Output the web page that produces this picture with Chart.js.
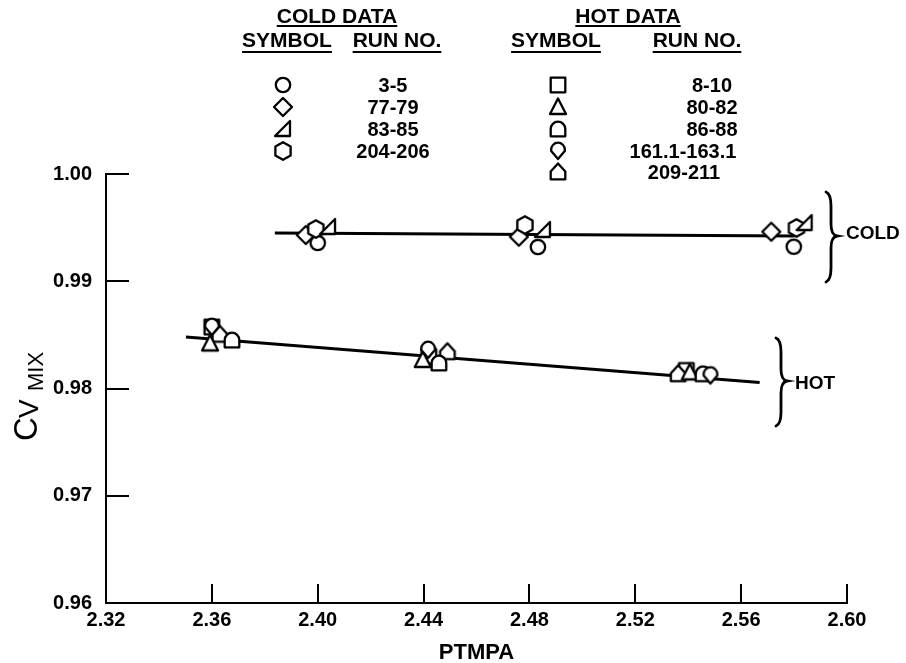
<!DOCTYPE html>
<html><head><meta charset="utf-8">
<script src="https://cdn.jsdelivr.net/npm/chart.js@4/dist/chart.umd.min.js"></script>
<style>html,body{margin:0;padding:0;background:#fff;}</style>
</head><body>
<canvas id="c" width="906" height="663" style="display:block;width:906px;height:663px"></canvas>
<script>
// ---------- data ----------
const xTicks = [2.32, 2.36, 2.40, 2.44, 2.48, 2.52, 2.56, 2.60];
const yTicks = [0.96, 0.97, 0.98, 0.99, 1.00];

const coldRunLabels = ['3-5', '77-79', '83-85', '204-206'];
const hotRunLabels = ['8-10', '80-82', '86-88', '161.1-163.1', '209-211'];

// COLD data
const coldCircleX = [2.4000, 2.4832, 2.5799];
const coldCircleY = [0.99357, 0.99319, 0.99322];
const coldDiamondX = [2.3955, 2.4760, 2.5714];
const coldDiamondY = [0.99431, 0.99415, 0.99462];
const coldRTriX = [2.4039, 2.4851, 2.5840];
const coldRTriY = [0.99506, 0.99478, 0.99543];
const coldHexX = [2.3993, 2.4783, 2.5809];
const coldHexY = [0.99487, 0.99524, 0.99497];

// HOT data
const hotSquareX = [2.3600, 2.4420, 2.5393];
const hotSquareY = [0.98573, 0.98300, 0.98168];
const hotTriX = [2.3593, 2.4397, 2.5406];
const hotTriY = [0.98420, 0.98266, 0.98150];
const hotDomeX = [2.3676, 2.4458, 2.5456];
const hotDomeY = [0.98452, 0.98238, 0.98137];
const hotShieldX = [2.3600, 2.4417, 2.5484];
const hotShieldY = [0.98573, 0.98359, 0.98121];
const hotHouseX = [2.3630, 2.4490, 2.5362];
const hotHouseY = [0.98505, 0.98343, 0.98137];

// fitted lines
const coldFitX = [2.3838, 2.5802];
const coldFitY = [0.99450, 0.99422];
const hotFitX = [2.3502, 2.5670];
const hotFitY = [0.98480, 0.98056];

// ---------- markers ----------
function shapePath(g, kind) {
  g.beginPath();
  switch (kind) {
    case 'circle': g.arc(0, 0, 7.2, 0, Math.PI * 2); break;
    case 'diamond': g.moveTo(0, -9); g.lineTo(9, 0); g.lineTo(0, 9); g.lineTo(-9, 0); g.closePath(); break;
    case 'rtri': g.moveTo(7, -8); g.lineTo(7, 7); g.lineTo(-8, 7); g.closePath(); break;
    case 'hex': for (let i = 0; i < 6; i++) { const a = -Math.PI / 2 + i * Math.PI / 3; const px = 8.8 * Math.cos(a), py = 8.8 * Math.sin(a); i ? g.lineTo(px, py) : g.moveTo(px, py); } g.closePath(); break;
    case 'square': g.rect(-7.3, -7.3, 14.6, 14.6); break;
    case 'tri': g.moveTo(0, -8.5); g.lineTo(8, 7); g.lineTo(-8, 7); g.closePath(); break;
    case 'dome': g.moveTo(-7.3, 7.3); g.lineTo(-7.3, 0); g.arc(0, 0, 7.3, Math.PI, 0); g.lineTo(7.3, 7.3); g.closePath(); break;
    case 'shield': g.arc(0, -1.5, 6.8, Math.PI, 0); g.lineTo(6.8, 0); g.lineTo(0, 8); g.lineTo(-6.8, 0); g.closePath(); break;
    case 'house': g.moveTo(-7.3, 7.3); g.lineTo(7.3, 7.3); g.lineTo(7.3, -0.5); g.lineTo(0, -8.5); g.lineTo(-7.3, -0.5); g.closePath(); break;
  }
}
function makeMarker(kind) {
  const size = 28;
  const c = document.createElement('canvas');
  c.width = size; c.height = size;
  const g = c.getContext('2d');
  g.translate(size / 2, size / 2);
  g.lineWidth = 2.3; g.strokeStyle = '#000'; g.fillStyle = '#fff'; g.lineJoin = 'round';
  shapePath(g, kind);
  g.fill(); g.stroke();
  return c;
}
const M = {};
['circle','diamond','rtri','hex','square','tri','dome','shield','house'].forEach(k => M[k] = makeMarker(k));

function pts(xs, ys) { return xs.map((x, i) => ({ x: x, y: ys[i] })); }
function markerSet(label, xs, ys, kind, order) {
  return { label, data: pts(xs, ys), pointStyle: M[kind], pointRadius: 8, showLine: false, order };
}
function lineSet(label, xs, ys) {
  return { label, data: pts(xs, ys), showLine: true, borderColor: '#000', borderWidth: 3.2, pointRadius: 0, order: 10 };
}

const FONT = "'Liberation Sans', Arial, Helvetica, sans-serif";

const decor = {
  id: 'decor',
  afterDraw(chart) {
    const ctx = chart.ctx, xs = chart.scales.x, ys = chart.scales.y, a = chart.chartArea;
    ctx.save();
    ctx.strokeStyle = '#000'; ctx.fillStyle = '#000';
    // inward tick marks
    ctx.lineWidth = 2;
    xTicks.forEach(v => { const px = Math.round(xs.getPixelForValue(v)); ctx.beginPath(); ctx.moveTo(px, a.bottom); ctx.lineTo(px, a.bottom - 19); ctx.stroke(); });
    yTicks.forEach(v => { const py = Math.round(ys.getPixelForValue(v)); ctx.beginPath(); ctx.moveTo(a.left, py); ctx.lineTo(a.left + 23, py); ctx.stroke(); });

    // x title
    ctx.font = 'bold 22px ' + FONT; ctx.textAlign = 'center'; ctx.textBaseline = 'alphabetic';
    ctx.fillText('PTMPA', (a.left + a.right) / 2, 659);

    // y title  C V MIX
    ctx.save();
    ctx.translate(37, 441); ctx.rotate(-Math.PI / 2);
    ctx.textAlign = 'left';
    ctx.font = '33px ' + FONT; ctx.fillText('C', 0, 0);
    ctx.font = '28px ' + FONT; ctx.fillText('V', 23, 1);
    ctx.font = '22px ' + FONT; ctx.fillText('MIX', 50, 6);
    ctx.restore();

    // legend headers
    function hdr(txt, cx, base, ul) {
      ctx.font = 'bold 21px ' + FONT; ctx.textAlign = 'center';
      ctx.fillText(txt, cx, base);
      const w = ctx.measureText(txt).width;
      ctx.lineWidth = 2;
      ctx.beginPath(); ctx.moveTo(cx - w / 2, ul); ctx.lineTo(cx + w / 2, ul); ctx.stroke();
    }
    hdr('COLD DATA', 337, 23, 26);
    hdr('SYMBOL', 287, 47, 52);
    hdr('RUN NO.', 397, 47, 52);
    hdr('HOT DATA', 628, 23, 26);
    hdr('SYMBOL', 556, 47, 52);
    hdr('RUN NO.', 697, 47, 52);

    const rows = [85, 107, 129, 151, 172];
    const coldKinds = ['circle', 'diamond', 'rtri', 'hex'];
    const hotKinds = ['square', 'tri', 'dome', 'shield', 'house'];
    const hotCx = [712, 712, 712, 683, 684];
    ctx.font = 'bold 20px ' + FONT; ctx.textAlign = 'center';
    coldKinds.forEach((k, i) => {
      ctx.drawImage(M[k], 283 - 14, rows[i] - 14);
      ctx.fillText(coldRunLabels[i], 393, rows[i] + 7);
    });
    hotKinds.forEach((k, i) => {
      ctx.drawImage(M[k], 558 - 14, rows[i] - 14);
      ctx.fillText(hotRunLabels[i], hotCx[i], rows[i] + 7);
    });

    // braces
    function brace(x, yTop, yMid, yBot, tip) {
      ctx.lineWidth = 2.8; ctx.lineCap = 'round';
      ctx.beginPath();
      ctx.moveTo(x - 5, yTop);
      ctx.quadraticCurveTo(x, yTop + 2, x, yTop + 14);
      ctx.lineTo(x, yMid - 12);
      ctx.quadraticCurveTo(x, yMid - 1, x + tip, yMid);
      ctx.quadraticCurveTo(x, yMid + 1, x, yMid + 12);
      ctx.lineTo(x, yBot - 14);
      ctx.quadraticCurveTo(x, yBot - 2, x - 5, yBot);
      ctx.stroke();
    }
    brace(831, 192, 236, 282, 6);
    brace(781, 338, 381, 426, 6);
    ctx.font = 'bold 19px ' + FONT; ctx.textAlign = 'left';
    ctx.fillText('COLD', 846, 239);
    ctx.fillText('HOT', 795, 389);
    ctx.restore();
  }
};

new Chart(document.getElementById('c'), {
  type: 'scatter',
  data: {
    datasets: [
      lineSet('cold fit', coldFitX, coldFitY),
      lineSet('hot fit', hotFitX, hotFitY),
      markerSet('3-5', coldCircleX, coldCircleY, 'circle', 5),
      markerSet('77-79', coldDiamondX, coldDiamondY, 'diamond', 4),
      markerSet('83-85', coldRTriX, coldRTriY, 'rtri', 2),
      markerSet('204-206', coldHexX, coldHexY, 'hex', 3),
      markerSet('8-10', hotSquareX, hotSquareY, 'square', 5),
      markerSet('80-82', hotTriX, hotTriY, 'tri', 3),
      markerSet('86-88', hotDomeX, hotDomeY, 'dome', 2),
      markerSet('161.1-163.1', hotShieldX, hotShieldY, 'shield', 1),
      markerSet('209-211', hotHouseX, hotHouseY, 'house', 4)
    ]
  },
  options: {
    responsive: false, animation: false, devicePixelRatio: 1,
    layout: { padding: { left: 0, right: 59, top: 174, bottom: 0 } },
    plugins: { legend: { display: false }, tooltip: { enabled: false } },
    scales: {
      x: {
        type: 'linear', min: 2.32, max: 2.60,
        afterBuildTicks: s => { s.ticks = xTicks.map(v => ({ value: v })); },
        afterFit: s => { s.height = 60; },
        grid: { display: false },
        border: { display: true, color: '#000', width: 2 },
        ticks: { color: '#000', font: { family: FONT, size: 20, weight: 'bold' }, padding: -3, maxRotation: 0, autoSkip: false, callback: v => v.toFixed(2) }
      },
      y: {
        type: 'linear', min: 0.96, max: 1.00,
        afterBuildTicks: s => { s.ticks = yTicks.map(v => ({ value: v })); },
        afterFit: s => { s.width = 106; },
        grid: { display: false },
        border: { display: true, color: '#000', width: 2 },
        ticks: { color: '#000', font: { family: FONT, size: 20, weight: 'bold' }, padding: 6, autoSkip: false, callback: v => v.toFixed(2) }
      }
    }
  },
  plugins: [decor]
});
</script>
</body></html>
